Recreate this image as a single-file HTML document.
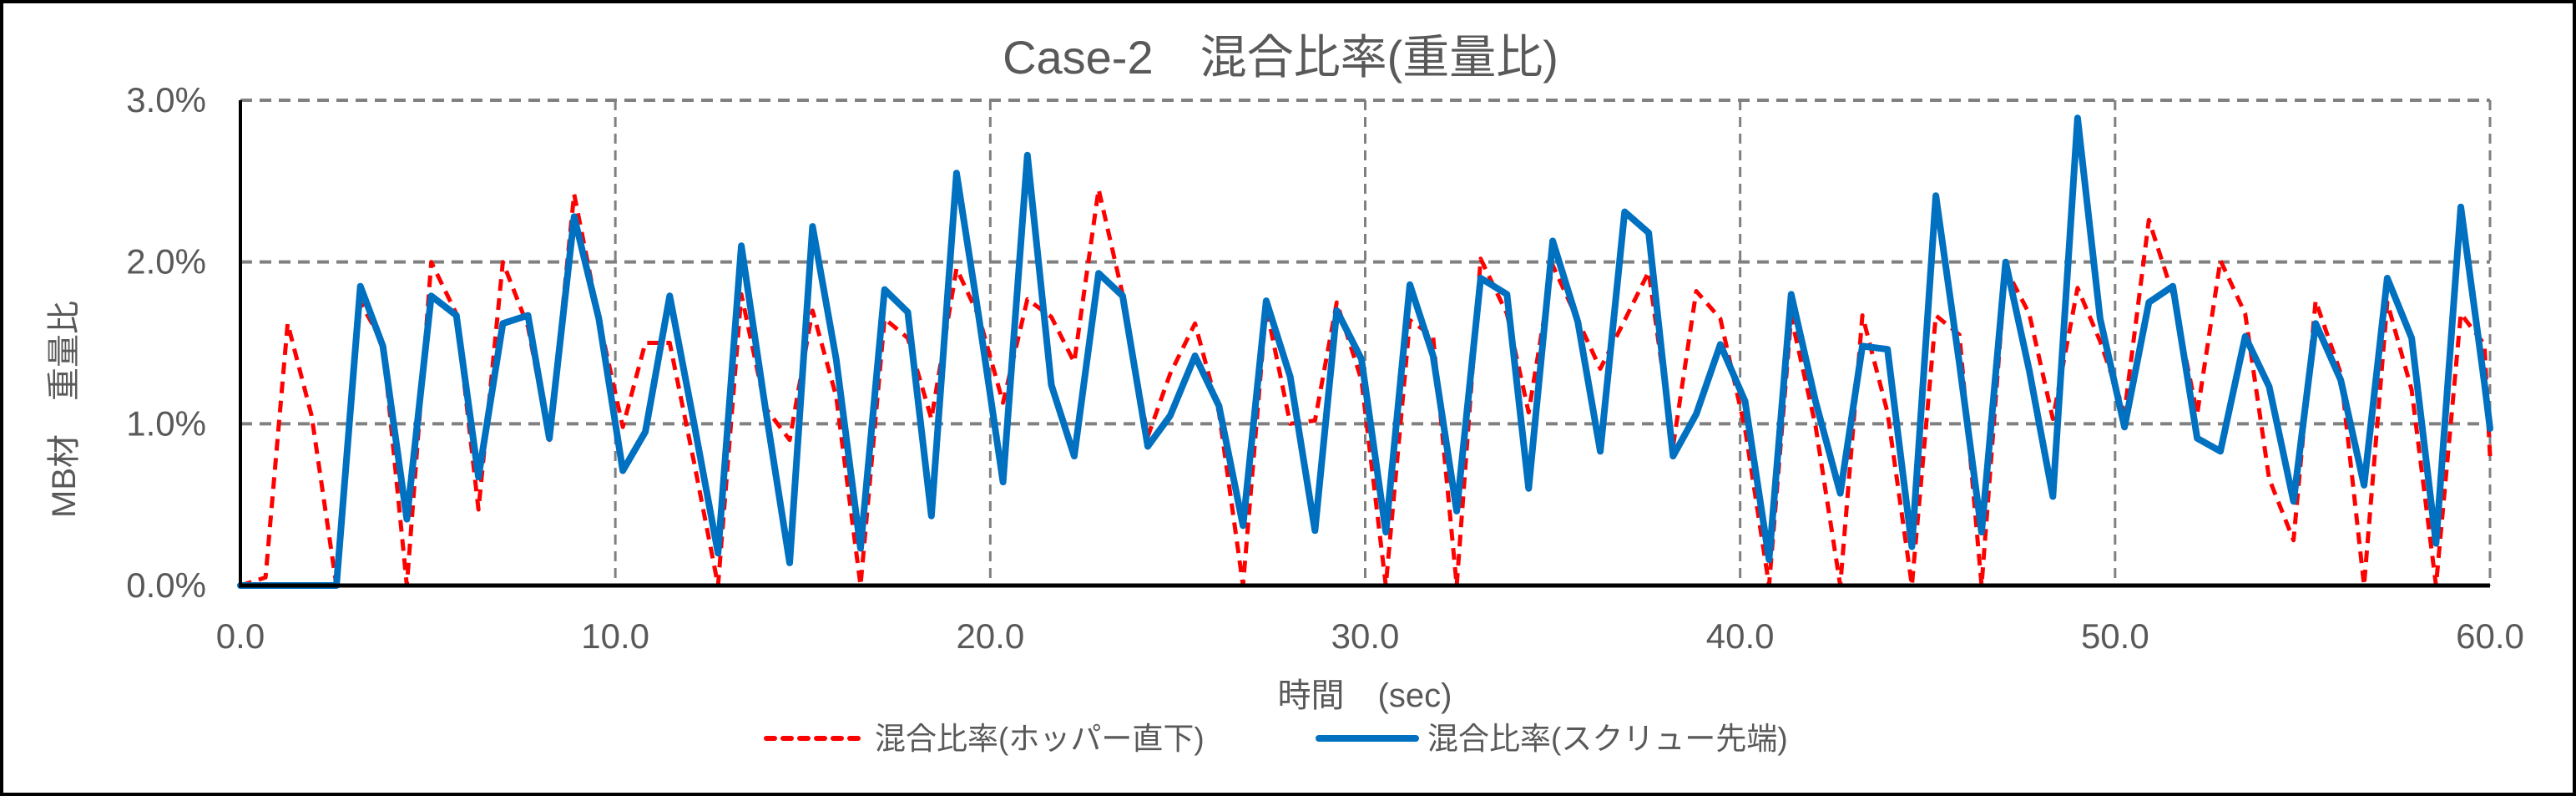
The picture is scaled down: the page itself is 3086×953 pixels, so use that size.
<!DOCTYPE html>
<html><head><meta charset="utf-8"><style>
html,body{margin:0;padding:0;background:#fff;}
svg{display:block;}
text{font-family:"Liberation Sans","Noto Sans CJK JP",sans-serif;fill:#595959;}
</style></head><body>
<svg id="chart" width="3086" height="953" viewBox="0 0 3086 953" xmlns="http://www.w3.org/2000/svg">
<rect x="2" y="2" width="3082" height="949" fill="#fff" stroke="#000" stroke-width="4"/>
<text x="1534" y="88" font-size="56" text-anchor="middle">Case-2　混合比率(重量比)</text>
<g id="grid"></g>
<g id="series"></g>
<g id="axes"></g>
<text transform="translate(90,490) rotate(-90)" font-size="40" text-anchor="middle">MB材　重量比</text>
<text x="1635" y="846" font-size="40" text-anchor="middle">時間　(sec)</text>
<g>
<line x1="918" y1="884" x2="1032" y2="884" stroke="#ff0000" stroke-width="6" stroke-dasharray="10,10" stroke-linecap="round"/>
<text x="1048" y="897" font-size="37">混合比率(ホッパー直下)</text>
<line x1="1580" y1="884" x2="1696" y2="884" stroke="#0070c0" stroke-width="8" stroke-linecap="round"/>
<text x="1710" y="897" font-size="37">混合比率(スクリュー先端)</text>
</g>
</svg>
<script>
const times = [0,0.67,1.26,1.9,2.56,3.2,3.8,4.44,5.09,5.76,6.35,7.0,7.67,8.24,8.9,9.56,10.2,10.8,11.45,12.1,12.74,13.36,14.0,14.65,15.26,15.89,16.54,17.18,17.8,18.43,19.1,19.7,20.34,20.99,21.63,22.24,22.89,23.53,24.2,24.8,25.46,26.1,26.74,27.36,28.0,28.66,29.24,29.9,30.55,31.19,31.81,32.44,33.08,33.78,34.36,35.0,35.67,36.27,36.92,37.56,38.21,38.83,39.47,40.13,40.77,41.36,42.01,42.67,43.26,43.93,44.58,45.22,45.85,46.44,47.08,47.71,48.34,49.0,49.6,50.25,50.9,51.54,52.19,52.81,53.47,54.11,54.76,55.35,56.02,56.64,57.26,57.91,58.56,59.22,59.85,60];
const hopperValues = [0,0.05,1.62,1.05,0,1.75,1.5,0,2.0,1.68,0.47,2.0,1.6,0.9,2.42,1.65,0.98,1.5,1.5,0.76,0,1.8,1.1,0.9,1.7,1.17,0,1.65,1.53,1.03,1.96,1.66,1.13,1.77,1.66,1.38,2.45,1.8,0.92,1.31,1.62,1.07,0,1.72,1.0,1.02,1.75,1.27,0,1.64,1.54,0,2.02,1.68,1.07,1.98,1.64,1.34,1.64,1.94,0.86,1.82,1.65,0.97,0,1.66,0.99,0,1.67,1.07,0,1.67,1.55,0,1.96,1.68,1.03,1.84,1.51,1.07,2.26,1.8,1.06,2.01,1.68,0.66,0.28,1.76,1.31,0,1.75,1.21,0,1.68,1.49,0.8];
const screwValues = [0,0,0,0,0,1.85,1.48,0.41,1.79,1.67,0.67,1.62,1.67,0.91,2.28,1.65,0.71,0.95,1.79,1.0,0.2,2.1,1.1,0.14,2.22,1.4,0.23,1.83,1.69,0.43,2.55,1.65,0.64,2.66,1.24,0.8,1.93,1.79,0.86,1.05,1.42,1.11,0.37,1.76,1.29,0.34,1.7,1.4,0.33,1.86,1.42,0.46,1.9,1.8,0.6,2.13,1.63,0.83,2.31,2.18,0.8,1.06,1.49,1.14,0.16,1.8,1.14,0.57,1.48,1.46,0.24,2.41,1.37,0.33,2.0,1.33,0.55,2.89,1.65,0.98,1.75,1.85,0.91,0.83,1.54,1.23,0.52,1.62,1.27,0.62,1.9,1.53,0.26,2.34,1.25,0.97];
const xTicks = [0,10,20,30,40,50,60];
const xTickLabels = ["0.0","10.0","20.0","30.0","40.0","50.0","60.0"];
const yTicks = [0,1,2,3];
const yTickLabels = ["0.0%","1.0%","2.0%","3.0%"];

const NS = "http://www.w3.org/2000/svg";
const L = 288, R = 2983, T = 120, B = 701;
const xMax = 60, yMax = 3;
function xs(t){ return L + (t / xMax) * (R - L); }
function ys(v){ return B - (v / yMax) * (B - T); }
function mk(tag, attrs, parent){
  const e = document.createElementNS(NS, tag);
  for (const k in attrs) e.setAttribute(k, attrs[k]);
  parent.appendChild(e);
  return e;
}
const grid = document.getElementById('grid');
const axes = document.getElementById('axes');
const series = document.getElementById('series');

yTicks.forEach((v, i) => {
  if (v > 0) {
    const g = mk('line', {x1: L, y1: ys(v), x2: R, y2: ys(v), stroke: '#808080', 'stroke-width': 4, 'stroke-dasharray': '14,9'}, grid);
    
    
  }
  const t = mk('text', {x: 247, y: ys(v) + 14, 'font-size': 42, 'text-anchor': 'end'}, axes);
  t.textContent = yTickLabels[i];
  
  
});
xTicks.forEach((v, i) => {
  if (v > 0) {
    const g = mk('line', {x1: xs(v), y1: T, x2: xs(v), y2: B, stroke: '#808080', 'stroke-width': 3, 'stroke-dasharray': '12,8'}, grid);
    
    
  }
  const t = mk('text', {x: xs(v), y: 776, 'font-size': 42, 'text-anchor': 'middle'}, axes);
  t.textContent = xTickLabels[i];
  
  
});
const ya = mk('line', {x1: L, y1: T, x2: L, y2: B + 2, stroke: '#000', 'stroke-width': 4}, axes);


const xa = mk('line', {x1: L - 2, y1: B, x2: R, y2: B, stroke: '#000', 'stroke-width': 5}, axes);



function pts(vals){ return vals.map((v, i) => xs(times[i]).toFixed(1) + ',' + ys(v).toFixed(1)).join(' '); }
const red = mk('polyline', {points: pts(hopperValues), fill: 'none', stroke: '#ff0000', 'stroke-width': 5, 'stroke-dasharray': '14,9', 'stroke-linejoin': 'round'}, series);


const blue = mk('polyline', {points: pts(screwValues), fill: 'none', stroke: '#0070c0', 'stroke-width': 8, 'stroke-linejoin': 'round', 'stroke-linecap': 'round'}, series);


</script>
</body></html>
